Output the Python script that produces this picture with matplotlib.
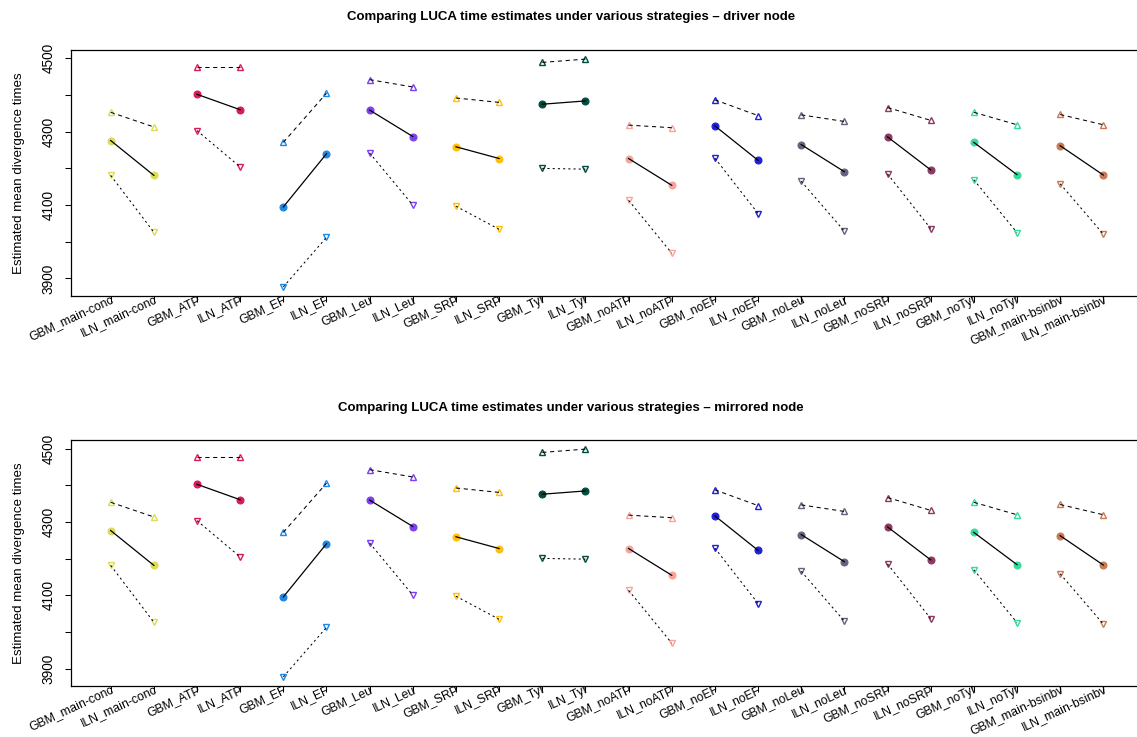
import matplotlib
matplotlib.use("Agg")
import matplotlib.pyplot as plt
from matplotlib.transforms import blended_transform_factory, ScaledTranslation, Bbox, TransformedBbox

plt.rcParams['font.family'] = ['Liberation Sans', 'DejaVu Sans']

categories = ["GBM_main-conc", "ILN_main-conc", "GBM_ATP", "ILN_ATP", "GBM_EF", "ILN_EF",
              "GBM_Leu", "ILN_Leu", "GBM_SRP", "ILN_SRP", "GBM_Tyr", "ILN_Tyr",
              "GBM_noATP", "ILN_noATP", "GBM_noEF", "ILN_noEF", "GBM_noLeu", "ILN_noLeu",
              "GBM_noSRP", "ILN_noSRP", "GBM_noTyr", "ILN_noTyr", "GBM_main-bsinbv", "ILN_main-bsinbv"]

pair_colors = ["#DCDC55", "#D81B60", "#1E88E5", "#7E3FF2", "#FFC107", "#004D40",
               "#F7A59C", "#2020DD", "#67637E", "#8B3A62", "#33DD99", "#C97A52"]

# driver node
driver_mean = [4276, 4181, 4402, 4360, 4095, 4240, 4359, 4287, 4259, 4227, 4375, 4384,
               4227, 4154, 4316, 4222, 4265, 4191, 4286, 4196, 4271, 4183, 4262, 4182]
driver_upper = [4353, 4313, 4476, 4476, 4271, 4405, 4442, 4422, 4392, 4380, 4489, 4498,
                4318, 4311, 4387, 4344, 4346, 4328, 4366, 4331, 4353, 4319, 4347, 4319]
driver_lower = [4181, 4026, 4303, 4204, 3877, 4012, 4242, 4100, 4097, 4034, 4200, 4198,
                4113, 3969, 4228, 4077, 4165, 4029, 4185, 4036, 4169, 4025, 4158, 4021]

# mirrored node
mirror_mean = [4277, 4182, 4403, 4361, 4096, 4241, 4360, 4288, 4260, 4228, 4376, 4385,
               4228, 4155, 4317, 4223, 4266, 4192, 4287, 4197, 4272, 4184, 4263, 4183]
mirror_upper = [4354, 4314, 4477, 4477, 4272, 4406, 4443, 4423, 4393, 4381, 4490, 4499,
                4319, 4312, 4388, 4345, 4347, 4329, 4367, 4332, 4354, 4320, 4348, 4320]
mirror_lower = [4182, 4027, 4304, 4205, 3878, 4013, 4243, 4101, 4098, 4035, 4201, 4199,
                4114, 3970, 4229, 4078, 4166, 4030, 4186, 4037, 4170, 4026, 4159, 4022]

titles = ["Comparing LUCA time estimates under various strategies \u2013 driver node",
          "Comparing LUCA time estimates under various strategies \u2013 mirrored node"]
ylabel = "Estimated mean divergence times"
yticks = [3900, 4000, 4100, 4200, 4300, 4400, 4500]
ytick_labels = ["3900", "", "4100", "", "4300", "", "4500"]

W, H = 1137, 737
fig = plt.figure(figsize=(W / 100, H / 100), dpi=100)

panels = [(driver_mean, driver_upper, driver_lower, 50, 296, 17),
          (mirror_mean, mirror_upper, mirror_lower, 440, 686, 408)]

left_px, right_px = 71, 1143
tick_len = 6
for (mean, upper, lower, top_px, bot_px, title_y), title in zip(panels, titles):
    ax = fig.add_axes([left_px / W, 1 - bot_px / H, (right_px - left_px) / W, (bot_px - top_px) / H])
    n = len(categories)
    xs = list(range(1, n + 1))
    allv = mean + upper + lower
    rng = max(allv) - min(allv)
    ax.set_xlim(1 - 0.04 * (n - 1), n + 0.04 * (n - 1))
    ax.set_ylim(min(allv) - 0.04 * rng, max(allv) + 0.04 * rng)
    for i in range(0, n, 2):
        c = pair_colors[i // 2]
        px = [xs[i], xs[i + 1]]
        ax.plot(px, upper[i:i + 2], color="black", lw=0.75, dashes=(4, 3.5), zorder=3)
        ax.plot(px, lower[i:i + 2], color="black", lw=0.75, dashes=(2, 3), zorder=3)
        ax.plot(px, mean[i:i + 2], color="black", lw=0.9, zorder=3)
        ax.plot(px, upper[i:i + 2], ls="none", marker="^", ms=5.0, mfc="none", mec=c, mew=1.0, zorder=2)
        ax.plot(px, lower[i:i + 2], ls="none", marker="v", ms=5.0, mfc="none", mec=c, mew=1.0, zorder=2)
        ax.plot(px, mean[i:i + 2], ls="none", marker="o", ms=5.0, mfc=c, mec=c, mew=0.8, zorder=2)
    ax.set_yticks(yticks)
    ax.set_yticklabels(ytick_labels, rotation=90, va="center", fontsize=9.8)
    ax.set_xticks(xs)
    ax.set_xticklabels([])
    ax.tick_params(axis="both", direction="out", length=tick_len * 0.72, width=0.75, pad=4)
    ax.tick_params(axis="y", pad=6.5)
    for s in ax.spines.values():
        s.set_linewidth(0.9)
    # rotated category labels, clipped at the axis line like the reference
    y0 = 1 - bot_px / H
    clip = TransformedBbox(Bbox([[-1, -1], [2, y0]]), fig.transFigure)
    trans = blended_transform_factory(ax.transData, ax.transAxes) + ScaledTranslation(0, 2.5 / 100, fig.dpi_scale_trans)
    for x, lab in zip(xs, categories):
        t = fig.text(x, 0, lab, transform=trans, rotation=25, rotation_mode="anchor",
                     ha="right", va="top", fontsize=8.8)
        t.set_clip_on(True)
        t.set_clip_box(clip)
    fig.text(571 / W, 1 - title_y / H, title, ha="center", va="center", fontsize=9.5, fontweight="bold")
    fig.text(19 / W, 1 - (top_px + bot_px) / 2 / H, ylabel, rotation=90, ha="center", va="center", fontsize=9.6)

fig.savefig("out.png", dpi=100)
